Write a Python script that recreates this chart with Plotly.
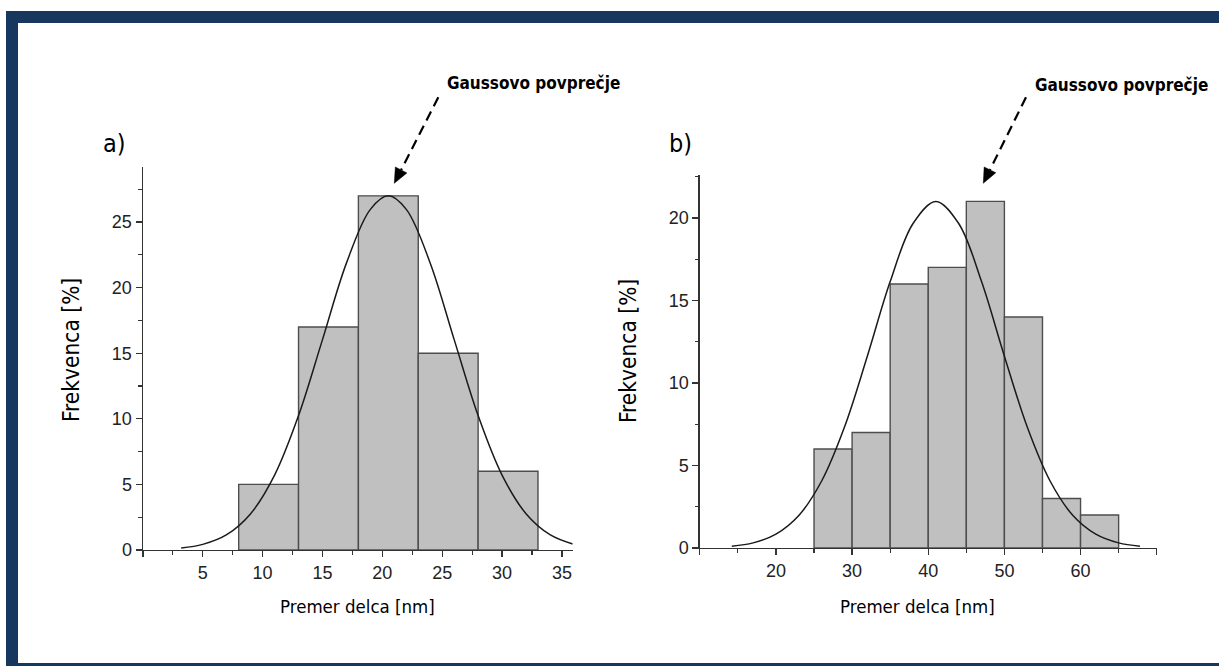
import math
import plotly.graph_objects as go

W, H = 1219, 666          # reference picture size (layout fractions use this)
FIG_H = 676               # rendered page height (capture gets fitted to 666)

# ---------------- data ----------------
# panel a)
a_bin_left = [8, 13, 18, 23, 28]
a_freq = [5, 17, 27, 15, 6]
a_fit_x = [3.2, 5, 7, 9, 11, 13, 15, 17, 19, 20.5, 22, 24, 26, 28, 30, 32, 34, 35.9]
a_fit_y = [0.16, 0.43, 1.17, 2.77, 5.71, 10.25, 16.04, 21.87, 25.97, 27.0,
           25.97, 21.87, 16.04, 10.25, 5.71, 2.77, 1.17, 0.46]
a_xticks = [0, 5, 10, 15, 20, 25, 30, 35]
a_xticktext = ["", "5", "10", "15", "20", "25", "30", "35"]
a_yticks = [0, 5, 10, 15, 20, 25]

# panel b)
b_bin_left = [25, 30, 35, 40, 45, 50, 55, 60]
b_freq = [6, 7, 16, 17, 21, 14, 3, 2]
b_fit_x = [14.2, 17, 20, 23, 26, 29, 32, 35, 38, 41, 44, 47, 50, 53, 56, 59, 62, 65, 67.8]
b_fit_y = [0.11, 0.31, 0.84, 1.97, 4.06, 7.33, 11.62, 16.14, 19.66, 21.0,
           19.66, 16.14, 11.62, 7.33, 4.06, 1.97, 0.84, 0.31, 0.11]
b_xticks = [10, 20, 30, 40, 50, 60, 70]
b_xticktext = ["", "20", "30", "40", "50", "60", ""]
b_yticks = [0, 5, 10, 15, 20]

bin_width = 5
annot_text = "Gaussovo povprečje"
y_title = "Frekvenca [%]"
x_title = "Premer delca [nm]"

# ---------------- helpers ----------------
def px(x):
    return x / W

def py(y):
    return 1 - y / H

NARROW = "Liberation Sans Narrow, Arial Narrow, DejaVu Sans Condensed, sans-serif"
TICKFONT = dict(family="Liberation Sans, Arial, sans-serif", size=18, color="#222222")
BAR_FILL = "#c0c0c0"
BAR_LINE = "#4d4d4d"
AXIS_COL = "#333333"
NAVY = "#17375e"

fig = go.Figure()

# bars
fig.add_trace(go.Bar(
    x=[b + bin_width / 2 for b in a_bin_left], y=a_freq, width=bin_width,
    marker=dict(color=BAR_FILL, line=dict(color=BAR_LINE, width=1.4)),
    xaxis="x", yaxis="y", showlegend=False, hoverinfo="skip"))
fig.add_trace(go.Bar(
    x=[b + bin_width / 2 for b in b_bin_left], y=b_freq, width=bin_width,
    marker=dict(color=BAR_FILL, line=dict(color=BAR_LINE, width=1.4)),
    xaxis="x2", yaxis="y2", showlegend=False, hoverinfo="skip"))

# gaussian fits
fig.add_trace(go.Scatter(x=a_fit_x, y=a_fit_y, mode="lines",
                         line=dict(color="#1a1a1a", width=1.5, shape="spline", smoothing=1.0),
                         xaxis="x", yaxis="y", showlegend=False, hoverinfo="skip"))
fig.add_trace(go.Scatter(x=b_fit_x, y=b_fit_y, mode="lines",
                         line=dict(color="#1a1a1a", width=1.5, shape="spline", smoothing=1.0),
                         xaxis="x2", yaxis="y2", showlegend=False, hoverinfo="skip"))

axis_common = dict(showline=True, linecolor=AXIS_COL, linewidth=1.4, ticks="outside",
                   ticklen=6, tickwidth=1.2, tickcolor=AXIS_COL, showgrid=False,
                   zeroline=False, tickfont=TICKFONT, fixedrange=True)

fig.update_layout(
    width=W, height=FIG_H, autosize=False,
    margin=dict(l=0, r=0, t=0, b=0),
    paper_bgcolor="white", plot_bgcolor="rgba(0,0,0,0)",
    bargap=0,
    xaxis=dict(domain=[px(142.9), px(572.7)], range=[0, 35.9], anchor="y",
               tickmode="array", tickvals=a_xticks, ticktext=a_xticktext,
               minor=dict(dtick=2.5, tick0=0, ticks="outside", ticklen=3.5, tickcolor=AXIS_COL),
               **axis_common),
    yaxis=dict(domain=[py(550), py(167)], range=[0, 29.2], anchor="x",
               tickmode="array", tickvals=a_yticks,
               minor=dict(dtick=2.5, tick0=0, ticks="outside", ticklen=3.5, tickcolor=AXIS_COL),
               **axis_common),
    xaxis2=dict(domain=[px(699.8), px(1156.7)], range=[10, 70], anchor="y2",
                tickmode="array", tickvals=b_xticks, ticktext=b_xticktext,
                minor=dict(dtick=5, tick0=0, ticks="outside", ticklen=3.5, tickcolor=AXIS_COL),
                **axis_common),
    yaxis2=dict(domain=[py(548), py(175)], range=[0, 22.6], anchor="x2",
                tickmode="array", tickvals=b_yticks,
                minor=dict(dtick=2.5, tick0=0, ticks="outside", ticklen=3.5, tickcolor=AXIS_COL),
                **axis_common),
)

shapes = []
# navy frame
shapes.append(dict(type="rect", xref="paper", yref="paper", x0=px(6), x1=1.0,
                   y0=py(23), y1=py(11), fillcolor=NAVY, line=dict(width=0), layer="above"))
shapes.append(dict(type="rect", xref="paper", yref="paper", x0=px(6), x1=px(18),
                   y0=0, y1=py(11), fillcolor=NAVY, line=dict(width=0), layer="above"))
shapes.append(dict(type="rect", xref="paper", yref="paper", x0=px(6), x1=1.0,
                   y0=0, y1=py(663), fillcolor=NAVY, line=dict(width=0), layer="above"))

def dashed_arrow(x0, y0, x1, y1, head_len=15, half_w=6.5):
    dx, dy = x1 - x0, y1 - y0
    L = math.hypot(dx, dy)
    ux, uy = dx / L, dy / L
    bx, by = x1 - head_len * ux, y1 - head_len * uy
    nx, ny = -uy, ux
    out = [dict(type="line", xref="paper", yref="paper",
                x0=px(x0), y0=py(y0), x1=px(bx), y1=py(by),
                line=dict(color="black", width=2.2, dash="10px,6px"))]
    pts = [(x1, y1), (bx + half_w * nx, by + half_w * ny), (bx - half_w * nx, by - half_w * ny)]
    path = "M " + " L ".join(f"{px(a):.5f},{py(b):.5f}" for a, b in pts) + " Z"
    out.append(dict(type="path", xref="paper", yref="paper", path=path,
                    fillcolor="black", line=dict(color="black", width=0.5)))
    return out

shapes += dashed_arrow(438.3, 97.3, 394.3, 183.3)
shapes += dashed_arrow(1026.0, 97.3, 983.3, 183.3)
fig.update_layout(shapes=shapes)

annots = []
def text(x, y, s, size, family=NARROW, bold=False, angle=0, xanchor="center"):
    annots.append(dict(x=px(x), y=py(y), xref="paper", yref="paper", showarrow=False,
                       text=f"<b>{s}</b>" if bold else s, textangle=angle,
                       xanchor=xanchor, yanchor="middle",
                       font=dict(family=family, size=size, color="black")))

text(533, 83, annot_text, 17, bold=True)
text(1121.7, 85, annot_text, 17, bold=True)
text(114, 143, "a)", 25)
text(680, 143, "b)", 25)
text(71, 350, y_title, 22.5, angle=-90)
text(628, 351, y_title, 22.5, angle=-90)
text(357, 606, x_title, 18.5)
text(917, 606, x_title, 18.5)
fig.update_layout(annotations=annots)

post = (
    "var s=document.createElement('style');"
    "s.textContent='html,body{margin:0!important;padding:0!important;overflow:hidden!important;}';"
    "document.head.appendChild(s);"
)

fig.write_html(
    "out.html",
    config={"displayModeBar": False, "responsive": False, "staticPlot": True},
    default_width="1219px", default_height="676px",
    post_script=post,
)
